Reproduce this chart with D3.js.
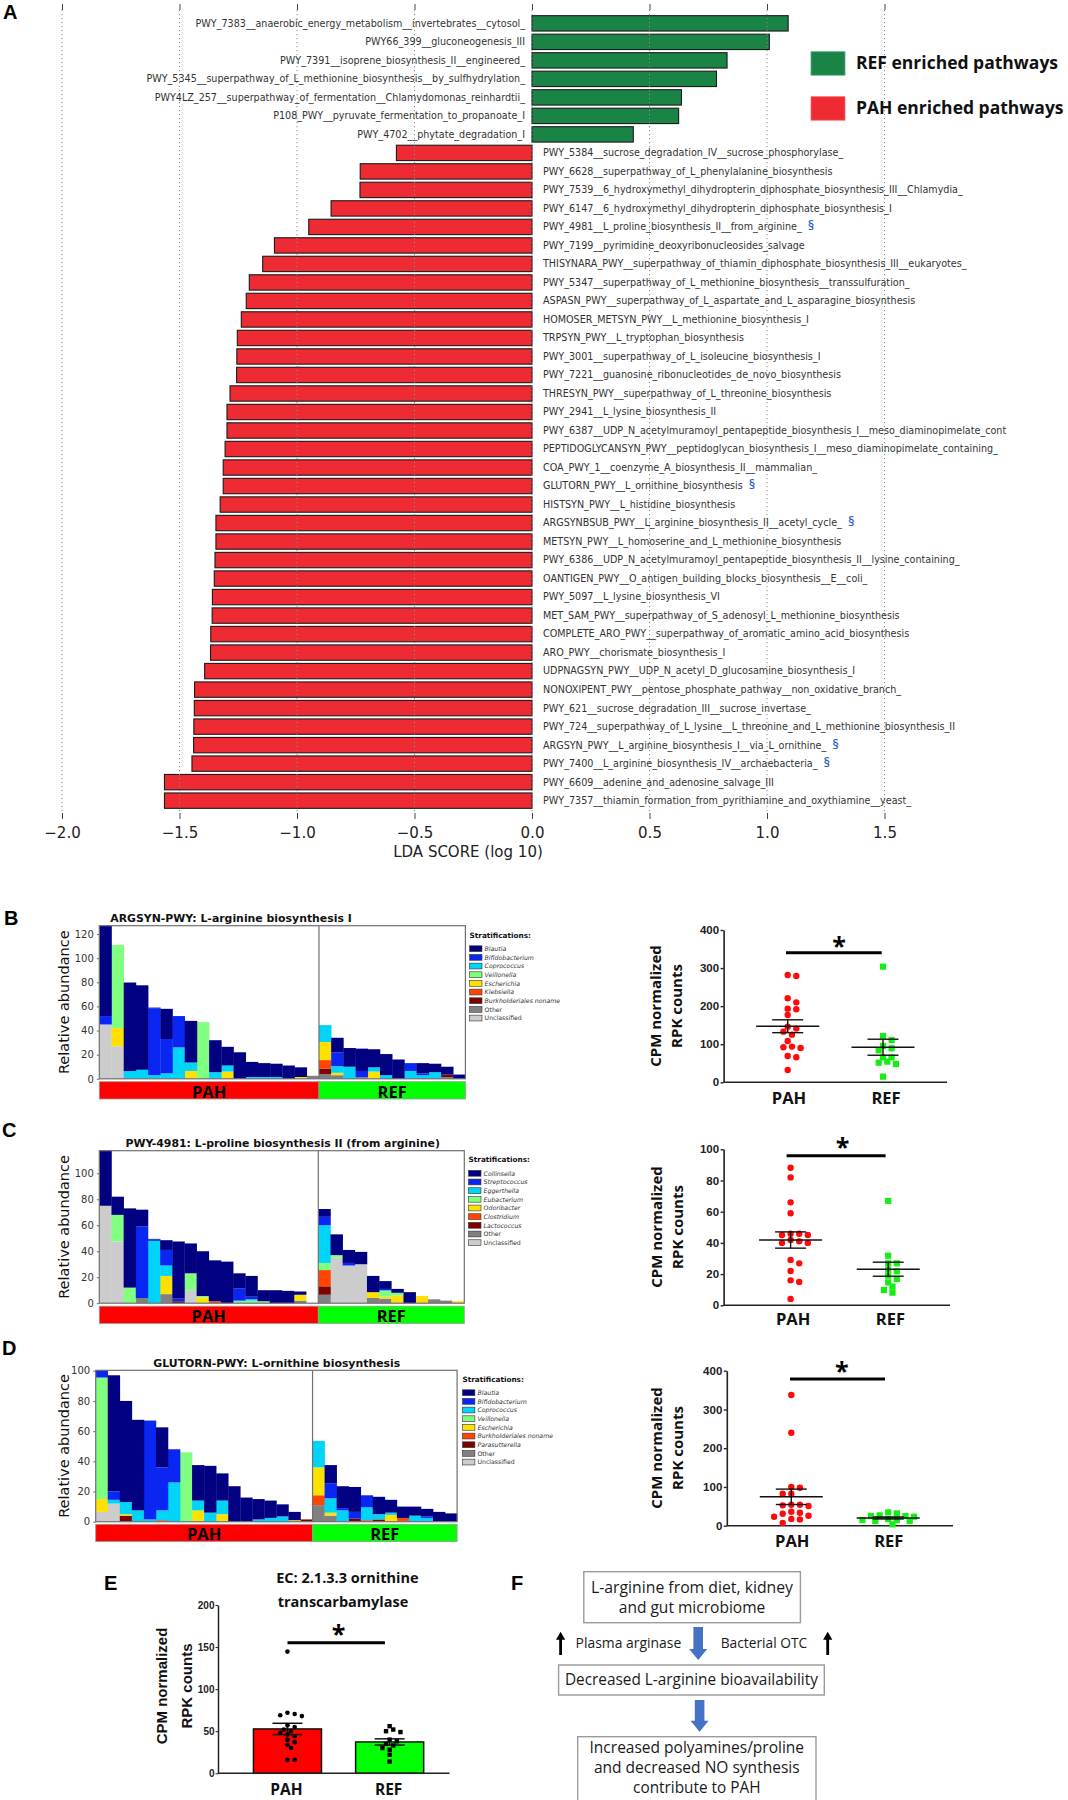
<!DOCTYPE html>
<html><head><meta charset="utf-8">
<script src="https://cdn.jsdelivr.net/npm/d3@7"></script>
<style>body{margin:0;background:#fff;} svg{display:block;}</style>
</head><body>
<svg id="fig" width="1068" height="1800"></svg>
<script>
// ================= DATA =================
// Panel A : LEfSe LDA scores
const ldaPathways = [
"PWY_7383__anaerobic_energy_metabolism__invertebrates__cytosol_",
"PWY66_399__gluconeogenesis_III",
"PWY_7391__isoprene_biosynthesis_II__engineered_",
"PWY_5345__superpathway_of_L_methionine_biosynthesis__by_sulfhydrylation_",
"PWY4LZ_257__superpathway_of_fermentation__Chlamydomonas_reinhardtii_",
"P108_PWY__pyruvate_fermentation_to_propanoate_I",
"PWY_4702__phytate_degradation_I",
"PWY_5384__sucrose_degradation_IV__sucrose_phosphorylase_",
"PWY_6628__superpathway_of_L_phenylalanine_biosynthesis",
"PWY_7539__6_hydroxymethyl_dihydropterin_diphosphate_biosynthesis_III__Chlamydia_",
"PWY_6147__6_hydroxymethyl_dihydropterin_diphosphate_biosynthesis_I",
"PWY_4981__L_proline_biosynthesis_II__from_arginine_",
"PWY_7199__pyrimidine_deoxyribonucleosides_salvage",
"THISYNARA_PWY__superpathway_of_thiamin_diphosphate_biosynthesis_III__eukaryotes_",
"PWY_5347__superpathway_of_L_methionine_biosynthesis__transsulfuration_",
"ASPASN_PWY__superpathway_of_L_aspartate_and_L_asparagine_biosynthesis",
"HOMOSER_METSYN_PWY__L_methionine_biosynthesis_I",
"TRPSYN_PWY__L_tryptophan_biosynthesis",
"PWY_3001__superpathway_of_L_isoleucine_biosynthesis_I",
"PWY_7221__guanosine_ribonucleotides_de_novo_biosynthesis",
"THRESYN_PWY__superpathway_of_L_threonine_biosynthesis",
"PWY_2941__L_lysine_biosynthesis_II",
"PWY_6387__UDP_N_acetylmuramoyl_pentapeptide_biosynthesis_I__meso_diaminopimelate_cont",
"PEPTIDOGLYCANSYN_PWY__peptidoglycan_biosynthesis_I__meso_diaminopimelate_containing_",
"COA_PWY_1__coenzyme_A_biosynthesis_II__mammalian_",
"GLUTORN_PWY__L_ornithine_biosynthesis",
"HISTSYN_PWY__L_histidine_biosynthesis",
"ARGSYNBSUB_PWY__L_arginine_biosynthesis_II__acetyl_cycle_",
"METSYN_PWY__L_homoserine_and_L_methionine_biosynthesis",
"PWY_6386__UDP_N_acetylmuramoyl_pentapeptide_biosynthesis_II__lysine_containing_",
"OANTIGEN_PWY__O_antigen_building_blocks_biosynthesis__E__coli_",
"PWY_5097__L_lysine_biosynthesis_VI",
"MET_SAM_PWY__superpathway_of_S_adenosyl_L_methionine_biosynthesis",
"COMPLETE_ARO_PWY__superpathway_of_aromatic_amino_acid_biosynthesis",
"ARO_PWY__chorismate_biosynthesis_I",
"UDPNAGSYN_PWY__UDP_N_acetyl_D_glucosamine_biosynthesis_I",
"NONOXIPENT_PWY__pentose_phosphate_pathway__non_oxidative_branch_",
"PWY_621__sucrose_degradation_III__sucrose_invertase_",
"PWY_724__superpathway_of_L_lysine__L_threonine_and_L_methionine_biosynthesis_II",
"ARGSYN_PWY__L_arginine_biosynthesis_I__via_L_ornithine_",
"PWY_7400__L_arginine_biosynthesis_IV__archaebacteria_",
"PWY_6609__adenine_and_adenosine_salvage_III",
"PWY_7357__thiamin_formation_from_pyrithiamine_and_oxythiamine__yeast_"
];
const ldaScores = [1.09,1.01,0.83,0.785,0.636,0.624,0.431,
 -0.577,-0.731,-0.732,-0.855,-0.950,-1.096,-1.146,-1.203,-1.216,-1.237,-1.254,-1.256,-1.257,-1.285,
 -1.298,-1.298,-1.306,-1.314,-1.314,-1.327,-1.345,-1.345,-1.349,-1.352,-1.360,-1.361,-1.367,-1.368,
 -1.393,-1.436,-1.437,-1.439,-1.440,-1.447,-1.564,-1.564];
const ldaFlagged = ["PWY_4981__L_proline_biosynthesis_II__from_arginine_","GLUTORN_PWY__L_ornithine_biosynthesis",
 "ARGSYNBSUB_PWY__L_arginine_biosynthesis_II__acetyl_cycle_","ARGSYN_PWY__L_arginine_biosynthesis_I__via_L_ornithine_",
 "PWY_7400__L_arginine_biosynthesis_IV__archaebacteria_"];
const ldaTicks = [-2.0,-1.5,-1.0,-0.5,0.0,0.5,1.0,1.5];
const ldaLegend = ["REF enriched pathways","PAH enriched pathways"];

// Groups (18 PAH samples, 12 REF samples)
const groupNames = ["PAH","REF"];
const groupSizes = [18,12];

// Panel B : ARGSYN-PWY stratified abundance (rows = taxa, columns = samples)
const argsynTaxa = ["Blautia","Bifidobacterium","Coprococcus","Veillonella","Escherichia","Klebsiella","Burkholderiales noname","Other","Unclassified"];
const argsynAbund = [
 [74.9,0,73.4,70,0.5,25,0,34.5,0,26.5,15.5,22,12.5,11.5,11,11,8,0, 0,12,15.5,18.5,15,17.5,16,0,8.5,7,6.5,3.5],
 [7,0,0,0,55.5,28.5,26,0,0,0,0,0,0,0,0,0,0,0, 0,11.5,0,5,0,0,0,6.5,1.5,0,0,0],
 [0,0,6.4,7.5,3,4.5,26,7,0,5.5,5,0,1.5,1.5,1.5,0,0,0, 14,5.5,10,0,3.5,3,0,6.5,3,5.5,0,0],
 [0,69,0,0,0,0,0,0,47,0,0,0,0,0,0,0,0,0, 0,0,0,0,0,0,0,0,0,0,0,0],
 [0,15,0,0,0,0,0,6.5,0,0,6,0,0,0,0,0,1.5,0, 15,2,0,0,6,0,0,0,0,0,0,0],
 [0,0,0,0,0,0,0,0,0,0,0,0,0,0,0,0,0,0, 7,0,0,0,0,0,0,0,0,0,0,0],
 [0,0,0,0,0,0,0,0,0,0,0,0,0,0,0,0,0,0, 4.5,0,0,0,0,0,0,0,0,0,2,0],
 [0,0,0,0,0,0,0,0,0,0,0,0,0,0,0,0,0,2.5, 4,3,0,1.5,0,0,0,0,0,0,1.5,0],
 [45,27,0,0,0,0,0,0,0,0,0,0,0,0,0,0,0,0, 0,0,0,0,0,0,0,0,0,0,0,0]
];
const argsynTicks = [0,20,40,60,80,100,120];

// Panel C : PWY-4981 stratified abundance
const prolineTaxa = ["Collinsella","Streptococcus","Eggerthella","Eubacterium","Odoribacter","Clostridium","Lactococcus","Other","Unclassified"];
const prolineAbund = [
 [42.4,14,61,13,0.5,7.5,44,23,34.5,31.5,32,11.5,16,8.5,10,9.5,2.5,0, 6,16,10,9.5,12.5,6,3,8.5,0,0,0,0],
 [0,0,0,55,1,12,2,0,0,0,0,9.5,2,0,0,0,0,0, 6.5,0,2,0,0,1,0,0,0,0,0,0],
 [0,0,0,0,48,8,0,0,0,0,0,0.5,1,0,0,0,0,0, 29,0,0,0,0,0.5,0,0,0,0,0,0],
 [0,20.5,12,0,0,0,0,13,1,0,0,1.5,2,1.5,0,0,0,0, 5.5,2,0,0,0,4.5,2,0,0,0,0,0],
 [0,0,0,0,0,14,0,0,4.5,0,0,0,0,0,0,0,4.5,0, 0,0,0,0,4.5,1.5,6,0,5.5,0,0,1.5],
 [0,0,0,0,0,0,0,0,0,1.5,0,0,0,0,0,0,0,0, 12.5,0,0,0,0,0,0,0,0,0,0,0],
 [0,0,0,0,0,0,1.5,0,0,0,0,0,0,0,0,0,0,0, 6.5,0,0,0,0,0,0,0,0,0,0,0],
 [0,0,0,4,0,7,0,0,0,0,0,0,0,0,0,0,2,0, 6.5,0,0,0,4,3.5,0,0,0,3,2,0],
 [75,47.5,0,0,0,0,0,10,0,0,0,0,0,0,0,0,0,0, 0,35,29,30,0,0,0,0,0,0,0,0]
];
const prolineTicks = [0,20,40,60,80,100];

// Panel D : GLUTORN-PWY stratified abundance
const ornTaxa = ["Blautia","Bifidobacterium","Coprococcus","Veillonella","Escherichia","Burkholderiales noname","Parasutterella","Other","Unclassified"];
const ornAbund = [
 [0,77,67,60,0,26.5,0,0,23.5,31,18,23.5,16,13.5,11.5,8,5.5,0, 0,12,14.5,16.5,0,11.5,8.5,7.5,6,5,6.5,5.5],
 [4.8,5.5,0,0,65.5,28.5,22,0,0,0,0,0,0,0,0,0,0,0, 0,10,1.5,4.5,8,0,0,0,0,1,0,0],
 [0,2.5,8,7.5,1.5,6.5,26,0,6.5,6,9,0,0,1.5,2.5,3.5,0,0, 17.5,9.5,7.5,0,8.5,3.5,1.5,0,4,2.5,0,0],
 [80.5,0,0,0,0,0,0,46,0,0,0,0,0,0,0,0,0,0, 0,0,0,0,0,0,0,0,0,0,0,0],
 [8.5,0,1,0,0,0,0,0,7.5,0,5,0,0,0,0,0,1,0, 18.5,2,0,0,0,0,4.5,0,0,0,0,0],
 [0,0,0,0,0,1,0,0,0,0,0,0,0,0,0,0,0,0, 6.5,0,0,0,1,0,0,2,0,0,0,0],
 [0,0,4,0,0,0,0,0,0,0,0,0,0,0,0,0,0,1.5, 0,0,0,2,0,1.5,0,0,0,0,0,0],
 [0,0,0,0,0,0,0,0,0,0,0,0,0,0,0,0,0,0, 11,4,0,0,0,0,0,0.5,0,0,0,0],
 [6.5,12,0,0,0,0,0,0,0,0,0,0,0,0,0,0,0,0, 0,0,0,0,0,0,0,0,0,0,0,0]
];
const ornTicks = [0,20,40,60,80,100];

// Scatter plots (CPM normalized RPK counts)
const argsynPAH = [279,282,220.6,210,193.4,191.7,176.8,146.2,141,133,125.2,108.5,93.7,90.2,91.9,69.1,65.6,32.4];
const argsynREF = [303.7,121.7,111.2,95.4,89.3,84,65.6,65.6,51.6,54.3,48.1,14.9];
const argsynCountTicks = [0,100,200,300,400];
const prolinePAH = [88.2,82,66,59,45.1,45.9,45.9,45.1,41,40,40,41.9,29.1,26.9,22,16,15,4.1];
const prolineREF = [66.9,31.8,26.9,26.9,22.9,21.8,16.9,19,14.7,12,9.8,8.1];
const prolineCountTicks = [0,20,40,60,80,100];
const ornPAH = [337.2,240,99.8,98,82.6,82.6,50.8,54.2,54.2,52.5,33.5,36.1,25.8,31,23.2,17.2,16.3,6.9];
const ornREF = [25,23.2,14.6,12,34.4,3.4,31.8,12,14.6,17.2,25,26.7];
const ornCountTicks = [0,100,200,300,400];

// Panel E : EC 2.1.3.3 ornithine transcarbamylase
const otcPAH = [144.6,72,70.5,69,68,57,55,52,50,48,46,44,40,37,34,30,16,16];
const otcREF = [56,52,50,49,40,38,35,33,30,28,22,14];
const otcTicks = [0,50,100,150,200];
const otcTitle = ["EC: 2.1.3.3 ornithine","transcarbamylase"];

// Panel F : schematic texts
const fBox1 = ["L-arginine from diet, kidney","and gut microbiome"];
const fBox2 = ["Decreased L-arginine bioavailability"];
const fBox3 = ["Increased polyamines/proline","and decreased NO synthesis","contribute to PAH"];
const fSide = ["Plasma arginase","Bacterial OTC"];

const taxaPalette = ["#000080","#0a26f2","#00d4f8","#80ff80","#ffe100","#ff4500","#800000","#808080","#cccccc"];
const groupColors = ["#ff0000","#00ff00"];

// ================= DRAWING =================
const svg = d3.select("#fig");
svg.append("rect").attr("width",1068).attr("height",1800).attr("fill","#fff");
const DV = "'DejaVu Sans', sans-serif";
const OS = "'Open Sans', sans-serif";
const LS = "'Liberation Sans', Arial, sans-serif";

function letter(t,x,y){
  svg.append("text").attr("x",x).attr("y",y).text(t)
    .attr("font-family",LS).attr("font-weight",700).attr("font-size",20).attr("fill","#000");
}
function fitText(g,t,x,y,len,size,weight,anchor){
  return g.append("text").attr("x",x).attr("y",y).attr("text-anchor",anchor||"middle").text(t)
    .attr("font-family",OS).attr("font-weight",weight||400).attr("font-size",size).attr("fill","#1a1a1a")
    .attr("textLength",len).attr("lengthAdjust","spacingAndGlyphs");
}

// ---------- Panel A ----------
(function(){
  const g = svg.append("g");
  const x = d3.scaleLinear().domain([-2,1.5]).range([62,884.5]);
  const y = d3.scaleBand().domain(ldaPathways).range([14.1,809.9]).paddingInner(0.17).paddingOuter(0.085);
  const data = ldaPathways.map((p,i)=>({p,v:ldaScores[i]}));
  g.selectAll("rect.bar").data(data).join("rect").attr("class","bar")
    .attr("x",d=>x(Math.min(0,d.v))).attr("width",d=>Math.abs(x(d.v)-x(0)))
    .attr("y",d=>y(d.p)).attr("height",y.bandwidth())
    .attr("fill",d=>d.v>0?"#1a8447":"#ee2a32").attr("stroke","#1b1b1b").attr("stroke-width",1.1);
  g.selectAll("line.grid").data(ldaTicks).join("line").attr("class","grid")
    .attr("x1",d=>x(d)).attr("x2",d=>x(d)).attr("y1",10).attr("y2",813)
    .attr("stroke","#8a8a8a").attr("stroke-width",1).attr("stroke-dasharray","1.2,2.8");
  const lab = g.selectAll("text.lab").data(data).join("text").attr("class","lab")
    .attr("x",d=>d.v>0?x(0)-7:x(0)+11).attr("y",d=>y(d.p)+y.bandwidth()/2+3.4)
    .attr("text-anchor",d=>d.v>0?"end":"start")
    .attr("font-family",DV).attr("font-size",9.6).attr("fill","#333");
  lab.append("tspan").text(d=>d.p);
  lab.filter(d=>ldaFlagged.includes(d.p)).append("tspan").attr("dx",6).text("§")
    .attr("fill","#2f62c4").attr("font-family",OS).attr("font-weight",600).attr("font-size",13);
  const axB = g.append("g").attr("transform","translate(0,813)")
    .call(d3.axisBottom(x).tickValues(ldaTicks).tickFormat(d3.format(".1f")).tickSize(6).tickPadding(8));
  axB.select(".domain").remove();
  axB.selectAll("line").attr("stroke","#444");
  axB.selectAll("text").attr("font-family",DV).attr("font-size",15).attr("fill","#222");
  const axT = g.append("g").attr("transform","translate(0,10)")
    .call(d3.axisTop(x).tickValues(ldaTicks).tickFormat("").tickSize(6));
  axT.select(".domain").remove();
  axT.selectAll("line").attr("stroke","#444");
  g.append("text").attr("x",468).attr("y",857).attr("text-anchor","middle").text("LDA SCORE (log 10)")
    .attr("font-family",DV).attr("font-size",15).attr("fill","#222");
  const lg = g.selectAll("g.lg").data(ldaLegend).join("g").attr("class","lg")
    .attr("transform",(d,i)=>`translate(811,${51.7+i*45})`);
  lg.append("rect").attr("width",34).attr("height",23.5).attr("fill",(d,i)=>i===0?"#1a8447":"#ee2a32")
    .attr("stroke",(d,i)=>i===0?"#55b07a":"#ff6a6a").attr("stroke-width",0.8);
  lg.append("text").attr("x",45).attr("y",17.5).text(d=>d)
    .attr("font-family",OS).attr("font-weight",700).attr("font-size",17.5).attr("fill","#111");
  letter("A",3,19);
})();

// ---------- Stacked bar panels ----------
function drawStack(o){
  const g = svg.append("g");
  const n = o.abund[0].length;
  const x = d3.scaleBand().domain(d3.range(n)).range([o.x0,o.x1]).padding(0);
  const y = d3.scaleLinear().domain([0,o.ymax]).range([o.yBot,o.yTop]);
  const rows = d3.range(n).map(i=>{const r={}; o.taxa.forEach((t,k)=>r[t]=o.abund[k][i]); return r;});
  const series = d3.stack().keys(o.taxa.slice().reverse())(rows);
  g.selectAll("g.layer").data(series).join("g").attr("class","layer")
    .attr("fill",d=>taxaPalette[o.taxa.indexOf(d.key)])
    .selectAll("rect").data(d=>d).join("rect")
    .attr("x",(d,i)=>x(i)).attr("width",x.bandwidth()+0.3)
    .attr("y",d=>y(d[1])).attr("height",d=>Math.max(0,y(d[0])-y(d[1])));
  g.append("rect").attr("x",o.x0).attr("y",o.yTop).attr("width",o.x1-o.x0).attr("height",o.yBot-o.yTop)
    .attr("fill","none").attr("stroke","#707070").attr("stroke-width",1.2);
  const xDiv = x(groupSizes[0]);
  g.append("line").attr("x1",xDiv).attr("x2",xDiv).attr("y1",o.yTop).attr("y2",o.yBot).attr("stroke","#707070").attr("stroke-width",1.2);
  const ax = g.append("g").attr("transform",`translate(${o.x0},0)`)
    .call(d3.axisLeft(y).tickValues(o.ticks).tickSize(2.5).tickPadding(3));
  ax.select(".domain").remove();
  ax.selectAll("line").attr("stroke","#707070");
  ax.selectAll("text").attr("font-family",DV).attr("font-size",10).attr("fill","#333");
  g.append("text").attr("transform",`translate(69,${(o.yTop+o.yBot)/2}) rotate(-90)`).attr("text-anchor","middle")
    .text("Relative abundance").attr("font-family",DV).attr("font-size",14.5).attr("fill","#111");
  g.append("text").attr("x",o.titleX).attr("y",o.yTop-3.8).attr("text-anchor","middle").text(o.title)
    .attr("font-family",DV).attr("font-weight",700).attr("font-size",10.9).attr("fill","#111");
  const bands = [{a:o.x0,b:xDiv,c:groupColors[0],t:groupNames[0]},{a:xDiv,b:o.x1,c:groupColors[1],t:groupNames[1]}];
  g.selectAll("rect.band").data(bands).join("rect").attr("class","band")
    .attr("x",d=>d.a).attr("width",d=>d.b-d.a).attr("y",o.bandY).attr("height",17.3)
    .attr("fill",d=>d.c).attr("stroke","#9a9a9a").attr("stroke-width",0.8);
  g.selectAll("text.band").data(bands).join("text").attr("class","band")
    .attr("x",d=>(d.a+d.b)/2).attr("y",o.bandY+15.8).attr("text-anchor","middle").text(d=>d.t)
    .attr("font-family",OS).attr("font-weight",700).attr("font-size",16.5).attr("fill","#000");
  g.append("text").attr("x",o.lx).attr("y",o.ly).text("Stratifications:")
    .attr("font-family",DV).attr("font-weight",700).attr("font-size",7.3).attr("fill","#111");
  const le = g.selectAll("g.le").data(o.taxa).join("g").attr("class","le")
    .attr("transform",(d,i)=>`translate(${o.lx},${o.ly+11+i*8.67})`);
  le.append("rect").attr("x",0).attr("y",-2.9).attr("width",12.4).attr("height",5.8)
    .attr("fill",(d,i)=>taxaPalette[i]).attr("stroke","#333").attr("stroke-width",0.6);
  le.append("text").attr("x",15).attr("y",2.3).text(d=>d)
    .attr("font-family",DV).attr("font-size",6.2).attr("fill","#333")
    .attr("font-style",d=>(d==="Other"||d==="Unclassified")?"normal":"italic");
}
drawStack({x0:99.3,x1:465.4,yTop:925.7,yBot:1078.8,ymax:126.9,ticks:argsynTicks,taxa:argsynTaxa,abund:argsynAbund,
  title:"ARGSYN-PWY: L-arginine biosynthesis I",titleX:231,bandY:1081.7,lx:469.6,ly:937.7});
drawStack({x0:99.3,x1:464.3,yTop:1150.7,yBot:1303.2,ymax:117.4,ticks:prolineTicks,taxa:prolineTaxa,abund:prolineAbund,
  title:"PWY-4981: L-proline biosynthesis II (from arginine)",titleX:282.7,bandY:1306.2,lx:468.6,ly:1162.3});
drawStack({x0:95.7,x1:457.1,yTop:1370.3,yBot:1521.7,ymax:100.3,ticks:ornTicks,taxa:ornTaxa,abund:ornAbund,
  title:"GLUTORN-PWY: L-ornithine biosynthesis",titleX:276.8,bandY:1524.3,lx:462.5,ly:1381.7});
letter("B",4,925);
letter("C",2,1137);
letter("D",2,1355);

// ---------- beeswarm helper ----------
function swarm(values, yScale, r, step){
  const placed=[]; const out=new Array(values.length);
  const order = values.map((v,i)=>i).sort((a,b)=>values[b]-values[a]);
  order.forEach(i=>{
    const yy=yScale(values[i]);
    for(let k=0;k<80;k++){
      const cands = k===0?[0]:[k*step,-k*step];
      let ok=null;
      for(const dx of cands){ if(placed.every(p=>Math.hypot(p.x-dx,p.y-yy)>=2*r-0.2)){ok=dx;break;} }
      if(ok!==null){placed.push({x:ok,y:yy});out[i]=ok;break;}
    }
  });
  return out;
}
const sem = a => d3.deviation(a)/Math.sqrt(a.length);

// ---------- Scatter panels ----------
function drawScatter(o){
  const g = svg.append("g");
  const y = d3.scaleLinear().domain([0,o.max]).range([o.yBot,o.yTop]);
  const x = d3.scalePoint().domain(groupNames).range(o.centers);
  const ax = g.append("g").attr("transform",`translate(${o.ax},0)`)
    .call(d3.axisLeft(y).tickValues(o.ticks).tickSize(3).tickPadding(1.5).tickSizeOuter(0));
  ax.select(".domain").attr("stroke","#222").attr("stroke-width",1.6);
  ax.selectAll("line").attr("stroke","#222").attr("stroke-width",1.4);
  ax.selectAll("text").attr("font-family",LS).attr("font-weight",700).attr("font-size",11.5).attr("fill","#222");
  g.append("line").attr("x1",o.ax).attr("x2",o.xRight).attr("y1",o.yBot).attr("y2",o.yBot).attr("stroke","#222").attr("stroke-width",1.6);
  const sets = [o.pah,o.ref];
  sets.forEach((vals,gi)=>{
    const cx = x(groupNames[gi]);
    const offs = swarm(vals,y,3.1,4.3);
    if(gi===0){
      g.selectAll(null).data(vals).join("circle").attr("cx",(d,i)=>cx+offs[i]).attr("cy",d=>y(d)).attr("r",3.2).attr("fill","#ff0a0a");
    } else {
      g.selectAll(null).data(vals).join("rect").attr("x",(d,i)=>cx+offs[i]-3.1).attr("y",d=>y(d)-3.1)
        .attr("width",6.2).attr("height",6.2).attr("fill","#14ee14");
    }
    const m=d3.mean(vals), s=sem(vals);
    g.append("line").attr("x1",cx-31.5).attr("x2",cx+31.5).attr("y1",y(m)).attr("y2",y(m)).attr("stroke","#111").attr("stroke-width",1.4);
    g.append("line").attr("x1",cx).attr("x2",cx).attr("y1",y(m-s)).attr("y2",y(m+s)).attr("stroke","#111").attr("stroke-width",1.4);
    [m-s,m+s].forEach(v=>g.append("line").attr("x1",cx-15.5).attr("x2",cx+15.5).attr("y1",y(v)).attr("y2",y(v)).attr("stroke","#111").attr("stroke-width",1.4));
    g.append("text").attr("x",o.labelX[gi]).attr("y",o.labelY).attr("text-anchor","middle").text(groupNames[gi])
      .attr("font-family",OS).attr("font-weight",700).attr("font-size",16.5).attr("fill","#111");
  });
  g.append("line").attr("x1",o.sig[0]).attr("x2",o.sig[1]).attr("y1",o.sig[2]).attr("y2",o.sig[2]).attr("stroke","#000").attr("stroke-width",3);
  g.append("text").attr("x",o.star[0]).attr("y",o.star[1]+13).attr("text-anchor","middle").text("*")
    .attr("font-family",OS).attr("font-weight",700).attr("font-size",25).attr("fill","#000");
  ["CPM normalized","RPK counts"].forEach((t,i)=>{
    g.append("text").attr("transform",`translate(${o.titleX[i]},${o.titleY}) rotate(-90)`).attr("text-anchor","middle").text(t)
      .attr("font-family",OS).attr("font-weight",700).attr("font-size",15).attr("fill","#111");
  });
}
drawScatter({ax:723.6,yTop:930,yBot:1082.3,max:400,ticks:argsynCountTicks,xRight:947,centers:[787.7,883],
  pah:argsynPAH,ref:argsynREF,labelX:[789,886],labelY:1104,sig:[786,881.7,952.7],star:[839,941.7],titleX:[660.6,681.6],titleY:1006});
drawScatter({ax:723.6,yTop:1149.3,yBot:1305.3,max:100,ticks:prolineCountTicks,xRight:950,centers:[790.6,888.2],
  pah:prolinePAH,ref:prolineREF,labelX:[793.2,890.4],labelY:1325,sig:[786.6,885.6,1155.7],star:[842.5,1143],titleX:[662,683],titleY:1227});
drawScatter({ax:726.8,yTop:1370.7,yBot:1525.7,max:400,ticks:ornCountTicks,xRight:953,centers:[791.3,888.2],
  pah:ornPAH,ref:ornREF,labelX:[792.3,888.8],labelY:1547,sig:[790,885,1379],star:[841.8,1366.7],titleX:[662,683],titleY:1448});

// ---------- Panel E ----------
(function(){
  const g = svg.append("g");
  const y = d3.scaleLinear().domain([0,200]).range([1773.3,1605]);
  const x = d3.scaleBand().domain(groupNames).range([233,444.1]).paddingInner(0.334).paddingOuter(0.2);
  const sets=[otcPAH,otcREF];
  const bars = groupNames.map((gname,i)=>({g:gname,m:d3.mean(sets[i]),s:sem(sets[i]),vals:sets[i]}));
  g.selectAll("rect.bar").data(bars).join("rect").attr("class","bar")
    .attr("x",d=>x(d.g)).attr("width",x.bandwidth()).attr("y",d=>y(d.m)).attr("height",d=>y(0)-y(d.m))
    .attr("fill",(d,i)=>groupColors[i]).attr("stroke","#111").attr("stroke-width",1.5);
  bars.forEach((b,i)=>{
    const cx = x(b.g)+x.bandwidth()/2;
    g.append("line").attr("x1",cx).attr("x2",cx).attr("y1",y(b.m-b.s)).attr("y2",y(b.m+b.s)).attr("stroke","#111").attr("stroke-width",1.5);
    [b.m-b.s,b.m+b.s].forEach(v=>g.append("line").attr("x1",cx-15).attr("x2",cx+15).attr("y1",y(v)).attr("y2",y(v)).attr("stroke","#111").attr("stroke-width",1.5));
    const offs = swarm(b.vals,y,2.3,3.6);
    if(i===0){
      g.selectAll(null).data(b.vals).join("circle").attr("cx",(d,k)=>cx+offs[k]).attr("cy",d=>y(d)).attr("r",2.3).attr("fill","#000");
    } else {
      g.selectAll(null).data(b.vals).join("rect").attr("x",(d,k)=>cx+offs[k]-2.2).attr("y",d=>y(d)-2.2).attr("width",4.4).attr("height",4.4).attr("fill","#000");
    }
    g.append("text").attr("x",cx-1).attr("y",1794.5).attr("text-anchor","middle").text(b.g)
      .attr("font-family",OS).attr("font-weight",700).attr("font-size",15.5).attr("fill","#111");
  });
  const ax = g.append("g").attr("transform","translate(218,0)")
    .call(d3.axisLeft(y).tickValues(otcTicks).tickSize(2.5).tickPadding(1).tickSizeOuter(0));
  ax.select(".domain").attr("stroke","#222").attr("stroke-width",1.5);
  ax.selectAll("line").attr("stroke","#222");
  ax.selectAll("text").attr("font-family",LS).attr("font-weight",700).attr("font-size",10).attr("fill","#222");
  g.append("line").attr("x1",218).attr("x2",449.6).attr("y1",1773.3).attr("y2",1773.3).attr("stroke","#222").attr("stroke-width",1.5);
  g.append("line").attr("x1",287.5).attr("x2",384.9).attr("y1",1642.7).attr("y2",1642.7).attr("stroke","#000").attr("stroke-width",3);
  g.append("text").attr("x",338.6).attr("y",1643).attr("text-anchor","middle").text("*")
    .attr("font-family",OS).attr("font-weight",700).attr("font-size",25).attr("fill","#000");
  otcTitle.forEach((t,i)=>g.append("text").attr("x",i===0?347.4:343).attr("y",1582.5+i*24.5).attr("text-anchor","middle").text(t)
    .attr("font-family",OS).attr("font-weight",700).attr("font-size",14.5).attr("fill","#111"));
  ["CPM normalized","RPK counts"].forEach((t,i)=>{
    g.append("text").attr("transform",`translate(${167+i*25},1686) rotate(-90)`).attr("text-anchor","middle").text(t)
      .attr("font-family",LS).attr("font-weight",700).attr("font-size",15).attr("fill","#111");
  });
  letter("E",104,1590);
})();

// ---------- Panel F ----------
(function(){
  const g = svg.append("g");
  const box = (x0,y0,x1,y1)=>g.append("rect").attr("x",x0).attr("y",y0).attr("width",x1-x0).attr("height",y1-y0)
    .attr("fill","#fff").attr("stroke","#9b9b9b").attr("stroke-width",1.4);
  box(583.8,1571.7,800.4,1622.7);
  const w1=[202,146.5];
  fBox1.forEach((t,i)=>fitText(g,t,692,1593+i*20.3,w1[i],15.5));
  box(558.6,1665,824.3,1695);
  fBox2.forEach(t=>fitText(g,t,691.4,1685,253,15.5));
  box(577.7,1736.7,816,1810);
  const w3=[214.6,205.7,127.4];
  fBox3.forEach((t,i)=>fitText(g,t,696.8,1753.3+i*20,w3[i],15.5));
  fitText(g,fSide[0],575.6,1648.3,105.6,15,400,"start");
  fitText(g,fSide[1],720.7,1648.3,86.5,15,400,"start");
  const blueArrow=(cx,y0,y1)=>g.append("path")
    .attr("d",`M${cx-4.8},${y0} L${cx+4.8},${y0} L${cx+4.8},${y1-11} L${cx+9},${y1-11} L${cx},${y1} L${cx-9},${y1-11} L${cx-4.8},${y1-11} Z`)
    .attr("fill","#4472c4");
  blueArrow(698.2,1627,1660);
  blueArrow(699.6,1700,1731.7);
  const upArrow=(cx,y0,y1)=>{
    g.append("path").attr("d",`M${cx-1.4},${y1} L${cx+1.4},${y1} L${cx+1.4},${y0+8} L${cx+4.6},${y0+8} L${cx},${y0} L${cx-4.6},${y0+8} L${cx-1.4},${y0+8} Z`).attr("fill","#000");
  };
  upArrow(560.6,1631.7,1655);
  upArrow(827.7,1631.7,1655);
  letter("F",511,1590);
})();
</script>
</body></html>
